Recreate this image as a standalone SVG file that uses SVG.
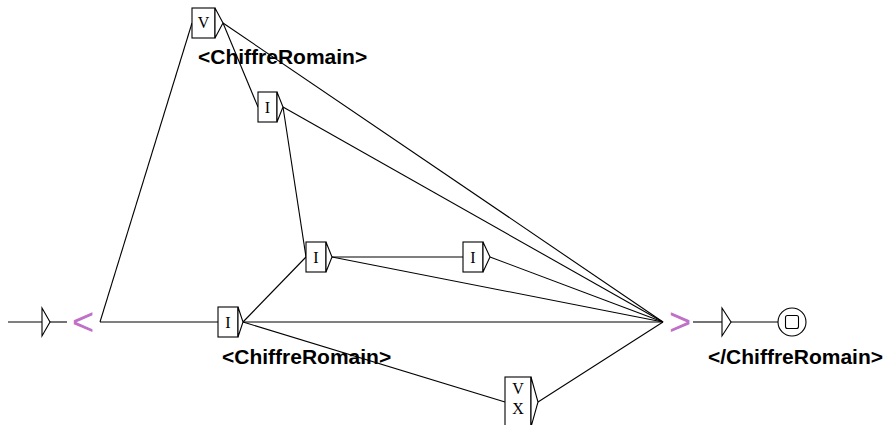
<svg xmlns="http://www.w3.org/2000/svg" width="887" height="425" viewBox="0 0 887 425">
  <style>
    .edge { stroke: #000; stroke-width: 1.1; fill: none; }
    .box { fill: #fff; stroke: #000; stroke-width: 1.1; }
    .tri { fill: #fff; stroke: #000; stroke-width: 1.1; stroke-linejoin: miter; }
    .tok { font-family: "Liberation Serif", "Times New Roman", serif; font-size: 16px; fill: #000; text-anchor: middle; }
    .out { font-family: "Liberation Sans", Arial, sans-serif; font-size: 21px; font-weight: bold; fill: #000; }
    .ctx { font-family: "Liberation Sans", Arial, sans-serif; font-size: 38px; fill: #c070c8; }
  </style>
  <rect width="887" height="425" fill="#fff"/>

  <g id="connectors">
    <line class="edge" x1="8" y1="322" x2="42" y2="322"/>
    <line class="edge" x1="50" y1="322" x2="67" y2="322"/>
    <line class="edge" x1="100" y1="322" x2="218" y2="322"/>
    <line class="edge" x1="100" y1="322" x2="192" y2="23"/>
    <line class="edge" x1="223" y1="23" x2="258" y2="107"/>
    <line class="edge" x1="283" y1="107" x2="306" y2="257"/>
    <line class="edge" x1="243" y1="322" x2="306" y2="257"/>
    <line class="edge" x1="332" y1="257" x2="463" y2="257"/>
    <line class="edge" x1="243" y1="322" x2="505" y2="402"/>
    <line class="edge" x1="223" y1="23" x2="663" y2="322"/>
    <line class="edge" x1="283" y1="107" x2="663" y2="322"/>
    <line class="edge" x1="332" y1="257" x2="663" y2="322"/>
    <line class="edge" x1="490" y1="257" x2="663" y2="322"/>
    <line class="edge" x1="243" y1="322" x2="663" y2="322"/>
    <line class="edge" x1="538" y1="402" x2="663" y2="322"/>
    <line class="edge" x1="693" y1="322" x2="722" y2="322"/>
    <line class="edge" x1="731" y1="322" x2="778" y2="322"/>
  </g>

  <g id="initial">
    <polygon class="tri" points="42,308 50,322 42,336"/>
  </g>

  <g id="ctx-open">
    <text class="ctx" x="72" y="335">&lt;</text>
  </g>

  <g id="node-v">
    <rect class="box" x="192" y="8" width="23" height="30"/>
    <polygon class="tri" points="215,8 223,23 215,38"/>
    <text class="tok" x="203.5" y="28">V</text>
    <text class="out" x="198" y="64">&lt;ChiffreRomain&gt;</text>
  </g>

  <g id="node-i-top">
    <rect class="box" x="258" y="92" width="19" height="30"/>
    <polygon class="tri" points="277,92 283,107 277,122"/>
    <text class="tok" x="267.5" y="113">I</text>
  </g>

  <g id="node-i-mid">
    <rect class="box" x="306" y="242" width="20" height="30"/>
    <polygon class="tri" points="326,242 332,257 326,272"/>
    <text class="tok" x="316" y="263">I</text>
  </g>

  <g id="node-i-right">
    <rect class="box" x="463" y="242" width="20" height="30"/>
    <polygon class="tri" points="483,242 490,257 483,272"/>
    <text class="tok" x="473" y="263">I</text>
  </g>

  <g id="node-i-bottom">
    <rect class="box" x="218" y="307" width="20" height="30"/>
    <polygon class="tri" points="238,307 243,322 238,337"/>
    <text class="tok" x="228" y="328">I</text>
    <text class="out" x="222" y="364">&lt;ChiffreRomain&gt;</text>
  </g>

  <g id="node-vx">
    <rect class="box" x="505" y="377" width="26" height="52"/>
    <polygon class="tri" points="531,377 538,402 531,427"/>
    <text class="tok" x="518" y="394">V</text>
    <text class="tok" x="518" y="414">X</text>
  </g>

  <g id="ctx-close">
    <text class="ctx" x="669" y="335">&gt;</text>
  </g>

  <g id="final-out">
    <polygon class="tri" points="722,308 731,322 722,336"/>
    <text class="out" x="708" y="364">&lt;/ChiffreRomain&gt;</text>
  </g>

  <g id="final">
    <circle class="box" cx="792" cy="322" r="14"/>
    <rect class="box" x="785.5" y="315.5" width="13" height="13" rx="2"/>
  </g>
</svg>
